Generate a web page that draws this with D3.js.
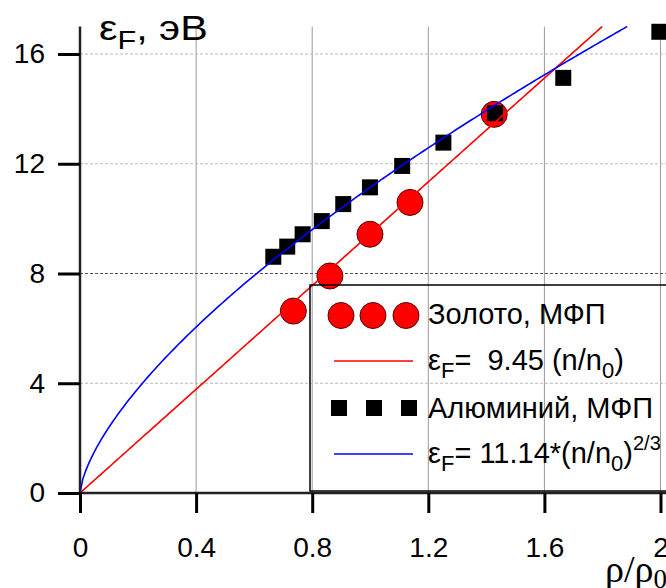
<!DOCTYPE html>
<html>
<head>
<meta charset="utf-8">
<script src="https://cdn.jsdelivr.net/npm/d3@7"></script>
<style>
  html, body { margin: 0; padding: 0; background: #fff; }
  svg { display: block; }
  text { font-family: "Liberation Sans", Arial, sans-serif; fill: #000; }
</style>
</head>
<body>
<svg id="chart" width="666" height="588"></svg>
<script>
// Relative density ρ/ρ0 and Fermi energy (eV)
const goldDensity = [0.735, 0.861, 0.999, 1.137, 1.427];
const goldEnergy  = [6.63, 7.91, 9.43, 10.59, 13.80];

const aluDensity = [0.666, 0.714, 0.767, 0.833, 0.907, 0.999, 1.110, 1.252, 1.430, 1.665, 1.996];
const aluEnergy  = [8.61, 8.98, 9.43, 9.91, 10.53, 11.14, 11.92, 12.77, 13.84, 15.13, 16.81];

// Free-electron fits: εF = a·(n/n0)^p
const goldFit = { a: 9.45, p: 1 };
const aluFit  = { a: 11.14, p: 2 / 3 };

const xTicks = [0, 0.4, 0.8, 1.2, 1.6, 2];
const xTickLabels = ["0", "0.4", "0.8", "1.2", "1.6", "2"];
const yTicks = [0, 4, 8, 12, 16];
const yTickLabels = ["0", "4", "8", "12", "16"];

const legendLabels = ["Золото, МФП", "Алюминий, МФП"];

const svg = d3.select("#chart");
const x = d3.scaleLinear().domain([0, 2]).range([80, 660.5]);
const y = d3.scaleLinear().domain([0, 16]).range([493, 54]);
const yTop = 17;

// grid
const grid = svg.append("g");
grid.selectAll("line.v").data(xTicks.slice(1)).join("line")
  .attr("x1", d => x(d)).attr("x2", d => x(d))
  .attr("y1", y(yTop)).attr("y2", y(0))
  .attr("stroke", "#9a9a9a").attr("stroke-width", 1);
grid.selectAll("line.h").data(yTicks.slice(1)).join("line")
  .attr("x1", x(0)).attr("x2", 666)
  .attr("y1", d => y(d)).attr("y2", d => y(d))
  .attr("stroke", d => d === 8 ? "#555" : "#b8b8b8")
  .attr("stroke-width", 1)
  .attr("stroke-dasharray", "3,2");

// fit curves
function fitPoints(f) {
  const xEnd = Math.pow(yTop / f.a, 1 / f.p);
  return d3.range(0, 201).map(i => {
    const xv = xEnd * i / 200;
    return [xv, f.a * Math.pow(xv, f.p)];
  });
}
const line = d3.line().x(d => x(d[0])).y(d => y(d[1]));

// markers
const gold = goldDensity.map((d, i) => [d, goldEnergy[i]]);
const alu = aluDensity.map((d, i) => [d, aluEnergy[i]]);

svg.append("g").selectAll("circle").data(gold).join("circle")
  .attr("cx", d => x(d[0])).attr("cy", d => y(d[1])).attr("r", 13)
  .attr("fill", "#ff0000").attr("stroke", "#5a0000").attr("stroke-width", 1);

const sq = 16;
svg.append("g").selectAll("rect").data(alu).join("rect")
  .attr("x", d => x(d[0]) - sq / 2).attr("y", d => y(d[1]) - sq / 2)
  .attr("width", sq).attr("height", sq).attr("fill", "#000");

svg.append("path").datum(fitPoints(goldFit)).attr("d", line)
  .attr("fill", "none").attr("stroke", "#ff0000").attr("stroke-width", 1.6);
svg.append("path").datum(fitPoints(aluFit)).attr("d", line)
  .attr("fill", "none").attr("stroke", "#0000ff").attr("stroke-width", 1.6);

// axes
const tickFont = 28;
const xAxis = svg.append("g").attr("transform", `translate(0,${y(0)})`)
  .call(d3.axisBottom(x).tickValues(xTicks).tickFormat((d, i) => xTickLabels[i])
    .tickSize(20).tickSizeOuter(0).tickPadding(24));
xAxis.select(".domain").attr("d", `M${x(0)},0H666`).attr("stroke", "#222").attr("stroke-width", 2.5);
xAxis.selectAll(".tick line").attr("stroke", "#000").attr("stroke-width", 3);
xAxis.selectAll(".tick text").attr("font-size", tickFont).attr("font-family", "Liberation Sans, Arial, sans-serif");

const yAxis = svg.append("g").attr("transform", `translate(${x(0)},0)`)
  .call(d3.axisLeft(y).tickValues(yTicks).tickFormat((d, i) => yTickLabels[i])
    .tickSize(22).tickSizeOuter(0).tickPadding(13));
yAxis.select(".domain").attr("d", `M0,${y(yTop)}V${y(0)}`).attr("stroke", "#222").attr("stroke-width", 2.5);
yAxis.selectAll(".tick line").attr("stroke", "#000").attr("stroke-width", 3);
yAxis.selectAll(".tick text").attr("font-size", tickFont).attr("font-family", "Liberation Sans, Arial, sans-serif");

// axis titles
const yt = svg.append("text").attr("transform", "translate(99,40) scale(1.18,1)").attr("font-size", 35);
yt.append("tspan").text("ε");
yt.append("tspan").attr("dy", 9).attr("font-size", 26).text("F");
yt.append("tspan").attr("dy", -9).text(", эВ");

const xt = svg.append("text").attr("x", 667).attr("y", 582).attr("text-anchor", "end")
  .attr("font-size", 38).style("font-family", "'Liberation Serif', 'Times New Roman', serif");
xt.append("tspan").text("ρ/ρ");
xt.append("tspan").attr("dy", 6).attr("font-size", 27).text("0");

// legend
const lg = svg.append("g").attr("transform", "translate(310,285)");
lg.append("rect").attr("x", 0).attr("y", 0).attr("width", 380).attr("height", 206)
  .attr("fill", "none").attr("stroke", "#000").attr("stroke-width", 1.5);
const rows = [39, 85, 133, 178];
const tx = 118;
const fs = 29;
const sub = 22;

lg.selectAll("circle.sym").data([31, 63, 96]).join("circle")
  .attr("cx", d => d).attr("cy", rows[0] - 8.5).attr("r", 13)
  .attr("fill", "#ff0000").attr("stroke", "#5a0000").attr("stroke-width", 1);
lg.append("text").attr("x", tx).attr("y", rows[0]).attr("font-size", fs).text(legendLabels[0]);

lg.append("line").attr("x1", 24).attr("x2", 103).attr("y1", rows[1] - 9).attr("y2", rows[1] - 9)
  .attr("stroke", "#ff0000").attr("stroke-width", 1.6);
const t2 = lg.append("text").attr("x", tx).attr("y", rows[1]).attr("font-size", fs)
  .style("white-space", "pre");
t2.append("tspan").text("ε");
t2.append("tspan").attr("dy", 8).attr("font-size", sub).text("F");
t2.append("tspan").attr("dy", -8).text(`=  ${goldFit.a.toFixed(2)} (n/n`);
t2.append("tspan").attr("dy", 8).attr("font-size", sub).text("0");
t2.append("tspan").attr("dy", -8).text(")");

lg.selectAll("rect.sym").data([29, 64, 99]).join("rect")
  .attr("x", d => d - sq / 2).attr("y", rows[2] - 10 - sq / 2)
  .attr("width", sq).attr("height", sq).attr("fill", "#000");
lg.append("text").attr("x", tx).attr("y", rows[2]).attr("font-size", fs).text(legendLabels[1]);

lg.append("line").attr("x1", 24).attr("x2", 103).attr("y1", rows[3] - 9).attr("y2", rows[3] - 9)
  .attr("stroke", "#0000ff").attr("stroke-width", 1.6);
const t4 = lg.append("text").attr("x", tx).attr("y", rows[3]).attr("font-size", fs)
  .style("white-space", "pre");
t4.append("tspan").text("ε");
t4.append("tspan").attr("dy", 8).attr("font-size", sub).text("F");
t4.append("tspan").attr("dy", -8).text(`= ${aluFit.a.toFixed(2)}*(n/n`);
t4.append("tspan").attr("dy", 8).attr("font-size", sub).text("0");
t4.append("tspan").attr("dy", -8).text(")");
t4.append("tspan").attr("dy", -13).attr("font-size", 20).text("2/3");
</script>
</body>
</html>
